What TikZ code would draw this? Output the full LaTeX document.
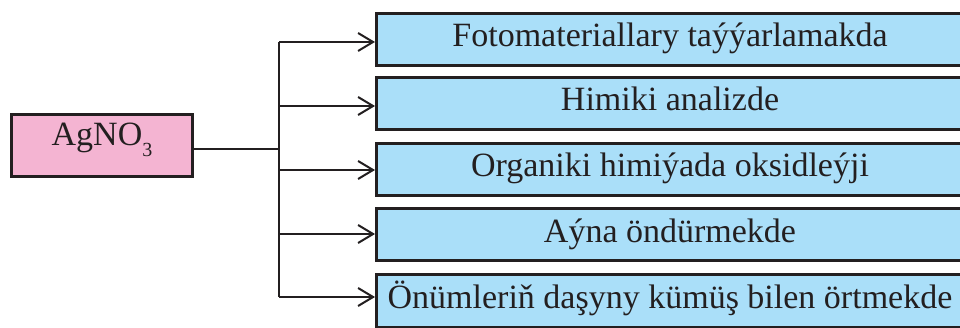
\documentclass[tikz,border=0pt]{standalone}
\usepackage{fontspec}
\setmainfont{Liberation Serif}
\usetikzlibrary{arrows.meta}
\definecolor{pinkfill}{HTML}{F4B4D2}
\definecolor{bluefill}{HTML}{AADFF9}
\definecolor{ink}{HTML}{231F20}
\tikzset{
  srcbox/.style={draw=ink, line width=3pt, fill=pinkfill, minimum width=181pt, minimum height=62pt, inner sep=0pt,
    font=\fontsize{34}{40}\selectfont, text=ink, text height=20pt, text depth=20pt},
  usebox/.style={draw=ink, line width=3pt, fill=bluefill, minimum width=587pt, minimum height=52pt, inner sep=0pt,
    font=\fontsize{34}{40}\selectfont, text=ink, text height=23pt, text depth=8pt},
  conn/.style={draw=ink, line width=2pt},
  arr/.style={conn, -{Straight Barb[length=15pt,width=18pt,line width=2pt]}}
}
\begin{document}
\begin{tikzpicture}[x=1pt,y=-1pt]
\useasboundingbox (0,0) rectangle (960,328);
\clip (0,0) rectangle (960,328);
\node[srcbox] (src) at (102,145.5) {AgNO\raisebox{-11pt}{\fontsize{20}{20}\selectfont 3}};
\node[usebox] (b1) at (670,39.5) {Fotomateriallary taýýarlamakda};
\node[usebox] (b2) at (670,103.5) {Himiki analizde};
\node[usebox] (b3) at (670,169.5) {Organiki himiýada oksidleýji};
\node[usebox] (b4) at (670,235) {Aýna öndürmekde};
\node[usebox] (b5) at (670,301) {Önümleriň daşyny kümüş bilen örtmekde};
\coordinate (j) at (279,149);
\coordinate (t1) at (279,42);
\coordinate (t2) at (279,106);
\coordinate (t3) at (279,170);
\coordinate (t4) at (279,234);
\coordinate (t5) at (279,297);
\draw[conn] (src.east |- j) -- (j);
\draw[conn] (t1) -- (t5);
\draw[arr] (t1) -- (t1 -| b1.west);
\draw[arr] (t2) -- (t2 -| b2.west);
\draw[arr] (t3) -- (t3 -| b3.west);
\draw[arr] (t4) -- (t4 -| b4.west);
\draw[arr] (t5) -- (t5 -| b5.west);
\end{tikzpicture}
\end{document}
